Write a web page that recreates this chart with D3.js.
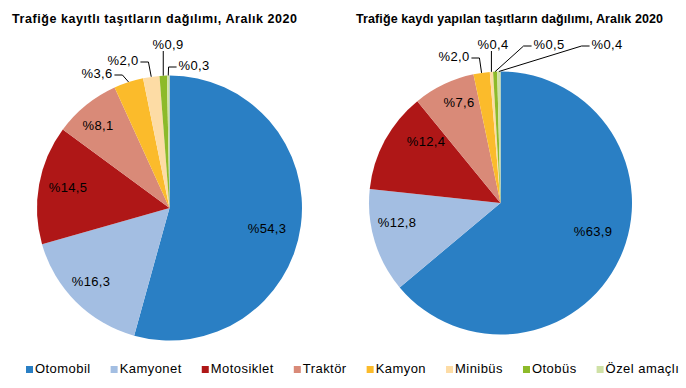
<!DOCTYPE html>
<html lang="tr">
<head>
<meta charset="UTF-8">
<title>Taşıt dağılımı</title>
<script src="https://d3js.org/d3.v7.min.js"></script>
<style>
    body { margin: 0; background: #fff; }
    text { font-family: "Liberation Sans", Arial, sans-serif; fill: #000; }
    .title { font-weight: bold; font-size: 12.5px; }
    .lbl { font-size: 13px; letter-spacing: 0.3px; }
    .legend text { font-size: 13px; letter-spacing: 0.45px; }
    .leader { stroke: #000; stroke-width: 1; fill: none; }
</style>
</head>
<body>
<script>
    // data
    const categories = ["Otomobil", "Kamyonet", "Motosiklet", "Traktör", "Kamyon", "Minibüs", "Otobüs", "Özel amaçlı"];
    const registeredShares = [54.3, 16.3, 14.5, 8.1, 3.6, 2.0, 0.9, 0.3];
    const newShares = [63.9, 12.8, 12.4, 7.6, 2.0, 0.4, 0.5, 0.4];
    const titles = ["Trafiğe kayıtlı taşıtların dağılımı, Aralık 2020",
                    "Trafiğe kaydı yapılan taşıtların dağılımı, Aralık 2020"];

    const colors = ["#2a7fc4", "#a3bee2", "#af1717", "#d98a78", "#fbbb2b", "#fddca5", "#8dba2a", "#cfe1a6"];

    const width = 686, height = 388;

    const svg = d3.select("body").append("svg")
        .attr("width", width)
        .attr("height", height);

    const color = d3.scaleOrdinal().domain(categories).range(colors);
    const fmt = v => "%" + d3.format(".1f")(v).replace(".", ",");

    // layout for each pie; label spots are relative to the pie centre
    // (the big slices hold their label inside, the small ones get a leader line)
    const pies = [
        { values: registeredShares, title: titles[0], titleX: 12, titleW: 285, cx: 169.5, cy: 208, r: 132.5,
          inside: { 0: [97.5, 20], 1: [-78.5, 73], 2: [-101.5, -21], 3: [-71.5, -83] },
          outside: { 4: [-72.5, -135], 5: [-46.5, -148], 6: [-1.5, -164], 7: [24.5, -143] } },
        { values: newShares, title: titles[1], titleX: 356, titleW: 307, cx: 500.5, cy: 203, r: 131.5,
          inside: { 0: [92.5, 28], 1: [-103.5, 19], 2: [-74.5, -62], 3: [-41.5, -101] },
          outside: { 4: [-46.5, -147], 5: [-7.5, -159], 6: [48.5, -159], 7: [106.5, -159] } }
    ];

    const pie = d3.pie().sort(null).value(d => d.value);

    pies.forEach(p => {
        const data = categories.map((c, i) => ({ name: c, value: p.values[i] }));
        const arcs = pie(data);
        const arc = d3.arc().innerRadius(0).outerRadius(p.r);

        svg.append("text")
            .attr("class", "title")
            .attr("x", p.titleX)
            .attr("y", 23)
            .attr("textLength", p.titleW)
            .attr("lengthAdjust", "spacing")
            .text(p.title);

        const g = svg.append("g")
            .attr("transform", `translate(${p.cx},${p.cy})`);

        g.selectAll("path.slice")
            .data(arcs)
            .enter()
            .append("path")
            .attr("class", "slice")
            .attr("d", arc)
            .attr("fill", d => color(d.data.name));

        arcs.forEach((d, i) => {
            const txt = fmt(d.data.value);
            if (p.outside[i]) {
                const [lx, ly] = p.outside[i];
                const mid = (d.startAngle + d.endAngle) / 2;
                const ex = Math.sin(mid) * p.r, ey = -Math.cos(mid) * p.r;
                const t = g.append("text")
                    .attr("class", "lbl")
                    .attr("x", lx)
                    .attr("y", ly)
                    .attr("dy", "0.35em")
                    .attr("text-anchor", "middle")
                    .text(txt);
                const w = t.node().getComputedTextLength();
                let pts;
                if (lx < ex - 10) {
                    const sx = lx + w / 2 + 2;
                    pts = [[sx, ly + 2], [sx + 8, ly + 2], [ex, ey]];
                } else if (lx > ex + 10) {
                    const sx = lx - w / 2 - 2;
                    pts = [[sx, ly + 2], [sx - 8, ly + 2], [ex, ey]];
                } else {
                    pts = [[ex, ly + 7], [ex, ey]];
                }
                g.append("path")
                    .attr("class", "leader")
                    .attr("d", d3.line()(pts));
            } else {
                const [x, y] = p.inside[i] || arc.centroid(d);
                g.append("text")
                    .attr("class", "lbl")
                    .attr("x", x)
                    .attr("y", y)
                    .attr("dy", "0.35em")
                    .attr("text-anchor", "middle")
                    .text(txt);
            }
        });
    });

    // legend
    const legend = svg.append("g").attr("class", "legend");
    let lx = 26;
    categories.forEach(c => {
        legend.append("rect")
            .attr("x", lx)
            .attr("y", 366)
            .attr("width", 7)
            .attr("height", 7)
            .attr("fill", color(c));
        const t = legend.append("text")
            .attr("x", lx + 9)
            .attr("y", 373)
            .text(c);
        lx += 9 + t.node().getComputedTextLength() + 20;
    });
</script>
</body>
</html>
